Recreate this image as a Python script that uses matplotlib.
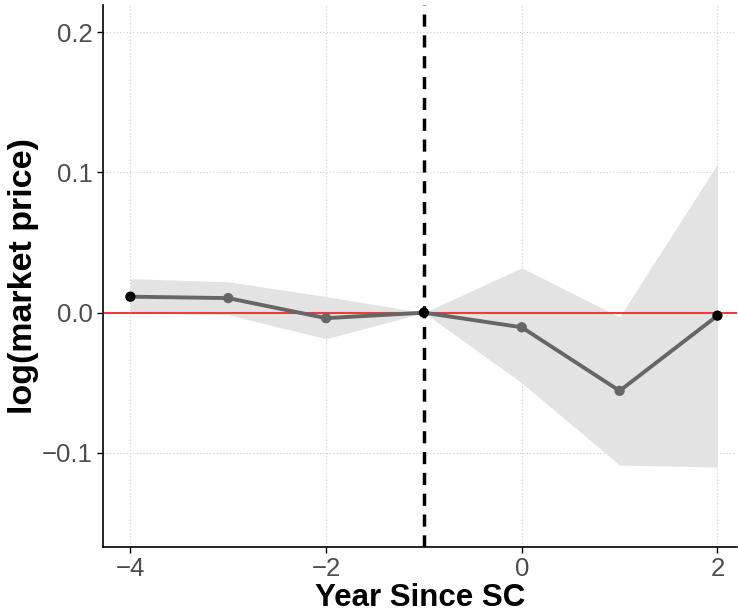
import numpy as np
import matplotlib.pyplot as plt

plt.rcParams['font.family'] = ['Liberation Sans', 'DejaVu Sans']

# event-study estimates with confidence band
years = [-4, -3, -2, -1, 0, 1, 2]
coef = [0.0114, 0.0104, -0.0039, 0.0, -0.0104, -0.0557, -0.0021]
ci_low = [0.0, -0.0014, -0.0186, 0.0, -0.050, -0.1086, -0.110]
ci_high = [0.0243, 0.022, 0.0115, 0.0, 0.032, -0.003, 0.106]
point_colors = ['black', '#666666', '#666666', 'black', '#666666', '#666666', 'black']

x_ticks = [-4, -2, 0, 2]
y_ticks = [-0.1, 0.0, 0.1, 0.2]

fig = plt.figure(figsize=(7.38, 6.14), dpi=100)
ax = fig.add_axes([103 / 738, 1 - 547 / 614, (737 - 103) / 738, (547 - 5) / 614])

ax.fill_between(years, ci_low, ci_high, color='#e3e3e3', lw=0, zorder=1)
ax.axhline(0, color='#ee3b3b', lw=1.5, zorder=2)
ax.plot(years, coef, color='#666666', lw=2.8, zorder=3)
ax.scatter(years, coef, c=point_colors, s=55, zorder=4, linewidths=0)
ax.axvline(-1, color='black', lw=2.5, ls=(0, (3.5, 2.5)), zorder=5)

ax.set_xlim(-4.28, 2.2)
ax.set_ylim(-0.167, 0.2193)
ax.set_xticks(x_ticks)
ax.set_yticks(y_ticks)
ax.set_xticklabels(['\u22124', '\u22122', '0', '2'])
ax.set_yticklabels(['\u22120.1', '0.0', '0.1', '0.2'])
ax.grid(True, color='#cccccc', ls=(0, (1, 2)), lw=0.8)
ax.set_axisbelow(True)

for s in ['top', 'right']:
    ax.spines[s].set_visible(False)
for s in ['left', 'bottom']:
    ax.spines[s].set_linewidth(1.2)
ax.tick_params(labelsize=18.5, colors='black', labelcolor='#4d4d4d', length=4, width=1)

ax.set_xlabel('Year Since SC', fontsize=22.5, fontweight='bold', labelpad=1)
ax.set_ylabel('log(market price)', fontsize=24.5, fontweight='bold', labelpad=2)

fig.savefig('out.png', dpi=100)
